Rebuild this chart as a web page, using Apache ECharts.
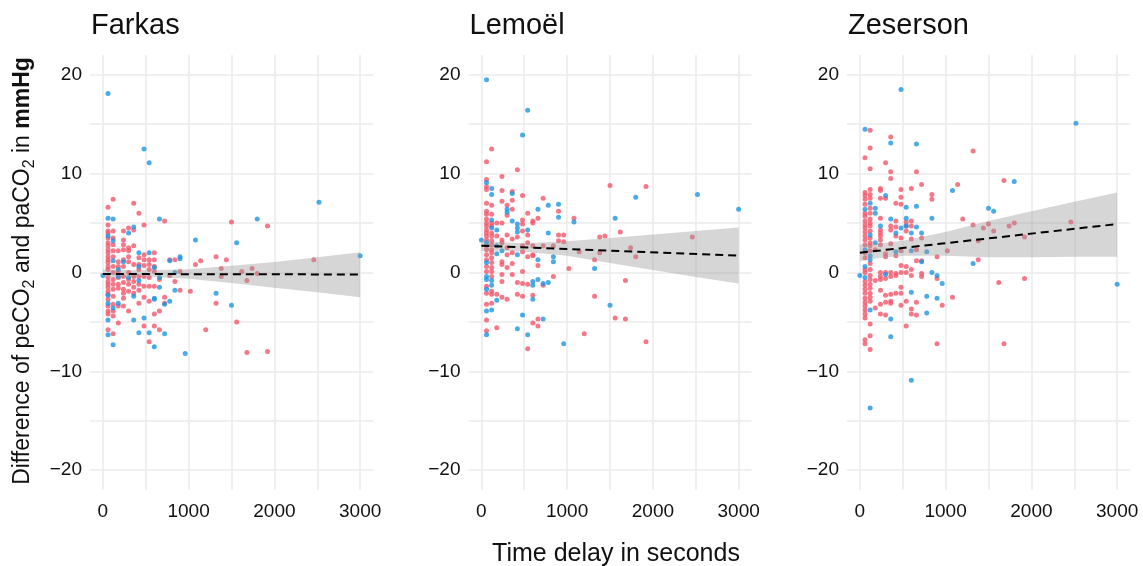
<!DOCTYPE html>
<html><head><meta charset="utf-8">
<script src="https://cdn.jsdelivr.net/npm/echarts@6/dist/echarts.min.js"></script>
<style>html,body{margin:0;padding:0;background:#fff}#c{width:1143px;height:566px}</style>
</head><body><div id="c"></div>
<script>
const panelNames = ['Farkas', 'Lemoël', 'Zeserson'];
const xTickLabels = [0, 1000, 2000, 3000];
const xGridValues = [0, 500, 1000, 1500, 2000, 2500, 3000];
const yTickLabels = [-20, -10, 0, 10, 20];
const yGridValues = [-20, -15, -10, -5, 0, 5, 10, 15, 20];

// [time delay s, difference mmHg]
const farkasRed = [[60,6.6],[60,4.8],[60,4.2],[60,4.0],[60,3.5],[60,3.0],[60,2.7],[60,2.3],[60,2.0],[60,1.6],[60,1.3],[60,1.0],[60,0.6],[60,0.3],[60,-0.5],[60,-0.9],[60,-1.2],[60,-1.5],[60,-1.9],[60,-2.2],[60,-2.7],[60,-3.4],[60,-3.9],[60,-4.2],[60,-5.8],
[120,7.4],[120,4.2],[120,3.5],[120,2.8],[120,2.2],[120,1.6],[120,0.6],[120,0],[120,-0.7],[120,-1.2],[120,-1.7],[120,-2.4],[120,-3.2],[120,-3.9],[120,-4.4],[120,-6.2],
[180,2.2],[180,1.1],[180,0.6],[180,0.1],[180,-0.5],[180,-1.2],[180,-1.6],[180,-3.4],[180,-5.1],
[240,4.2],[240,3.3],[240,2.8],[240,2.3],[240,1.3],[240,0.6],[240,-0.4],[240,-1.0],[240,-1.7],[240,-2.1],[240,-2.6],[240,-3.4],
[300,4.5],[300,2.5],[300,2.2],[300,1.6],[300,1.1],[300,0],[300,-0.7],[300,-1.2],[300,-1.9],[300,-3.9],
[360,7.0],[360,4.3],[360,2.7],[360,0.8],[360,-0.4],[360,-0.9],[360,-1.5],[360,-2.1],
[420,6.0],[420,1.5],[420,0.8],[420,0.3],[420,-0.4],[420,-1.2],[420,-1.8],[420,-3.1],
[480,4.8],[480,1.8],[480,1.3],[480,0.7],[480,-0.4],[480,-1.4],[480,-2.5],[480,-5.4],
[540,1.3],[540,0.8],[540,0.3],[540,-0.5],[540,-1.4],[540,-2.9],[540,-7.0],
[600,2.0],[600,1.3],[600,0.6],[600,0.1],[600,-1.4],[600,-4.2],[600,-5.4],
[660,-0.7],[660,-3.9],[660,-5.8],[720,5.2],[720,-2.5],[720,-3.1],[780,1.3],[780,-0.3],[840,1.3],[840,-0.9],[900,0.1],[900,-1.8],
[1020,-1.9],[1080,0.8],[1140,1.2],[1200,-5.8],[1320,1.6],[1320,-3.1],[1380,0.4],[1380,-0.4],[1440,1.3],[1500,5.1],[1560,-5.0],
[1620,0.1],[1680,-0.8],[1680,-8.1],[1740,0.4],[1800,-0.1],[1920,4.7],[1920,-8.0],[2460,1.3]];
const farkasBlue = [[0,-0.3],[60,18.1],[480,12.5],[540,11.1],[60,5.5],[60,3.7],[60,-2.3],[60,-3.1],[60,-4.8],[60,-6.3],
[120,5.4],[120,3.2],[120,1.2],[120,-3.6],[120,-7.3],[180,0.3],[180,-0.4],[180,-3.1],[240,1.1],[300,4.0],[300,-0.5],
[360,4.6],[360,-2.4],[360,-4.8],[420,2.0],[420,0.6],[420,-0.8],[420,-6.1],[480,-4.6],[540,2.0],[540,-6.1],
[600,0.5],[600,-2.6],[600,-2.7],[600,-7.5],[660,5.4],[660,-0.5],[660,-1.5],[720,-3.2],[720,-6.2],[780,1.2],[780,-2.9],
[840,0],[840,-1.8],[900,1.6],[900,1.4],[960,-8.2],[1080,3.3],[1320,-2.1],[1500,-3.3],[1560,3.0],[1800,5.4],[2520,7.1],[3000,1.7]];

const lemoelRed = [[60,11.2],[60,9.4],[60,8.7],[60,8.4],[60,7.0],[60,6.2],[60,5.9],[60,5.4],[60,5.0],[60,4.7],[60,4.3],[60,4.0],[60,3.7],[60,3.3],[60,2.7],[60,2.3],[60,1.8],[60,1.3],[60,0.6],[60,0.1],[60,-1.4],[60,-2.1],[60,-3.2],[60,-4.8],[60,-5.9],
[120,12.5],[120,6.8],[120,5.9],[120,5.0],[120,4.7],[120,4.0],[120,3.7],[120,3.2],[120,2.8],[120,2.3],[120,2.0],[120,1.5],[120,1.0],[120,0.5],[120,0.1],[120,-0.4],[120,-1.9],[120,-2.2],[120,-3.1],
[180,5.0],[180,3.7],[180,-2.2],[180,-5.6],
[240,9.7],[240,8.3],[240,7.2],[240,5.0],[240,3.3],[240,3.0],[240,1.1],[240,0.8],[240,-0.2],[240,-0.9],[240,-2.5],
[300,6.8],[300,5.8],[300,3.8],[300,2.5],[300,1.8],[300,0.5],[300,-2.7],
[360,8.2],[360,7.3],[360,6.4],[360,3.4],[360,2.0],[360,0.9],[360,-0.2],
[420,10.4],[420,3.6],[420,-1.0],[420,-2.2],
[480,7.8],[480,5.3],[480,4.9],[480,4.2],[480,2.7],[480,2.1],[480,0.1],[480,-1.1],[480,-2.4],
[540,6.0],[540,3.8],[540,3.0],[540,1.6],[540,-1.2],[540,-7.7],
[600,5.2],[600,5.0],[600,2.7],[600,1.8],[600,1.7],[600,-2.3],[600,-5.1],
[660,5.5],[660,0.7],[660,-4.7],[660,-5.4],[720,7.5],[720,2.7],[720,-1.3],[840,2.7],[840,-0.4],
[900,6.2],[900,3.8],[900,3.2],[960,3.8],[960,3.1],[1020,0.4],[1080,5.5],[1140,2.1],[1200,-6.2],[1320,1.3],[1320,-2.4],
[1380,3.6],[1380,2.0],[1440,3.7],[1500,8.8],[1560,-4.6],[1620,4.1],[1680,-0.8],[1680,-4.7],[1740,2.5],[1800,1.6],
[1920,8.7],[1920,-7.0],[2460,3.6]];
const lemoelBlue = [[0,3.3],[60,19.5],[60,9.1],[60,3.0],[60,1.0],[60,-0.4],[60,-0.7],[60,-1.7],[60,-3.9],[60,-6.3],
[120,8.5],[120,7.9],[120,5.3],[120,4.5],[120,-0.8],[120,-1.3],[120,-3.8],[180,4.3],[180,2.7],[180,1.9],[180,-2.8],
[240,2.2],[300,6.4],[300,6.1],[360,8.0],[360,5.2],[420,4.9],[420,4.5],[420,4.1],[420,1.8],[420,-5.7],
[480,13.9],[480,-4.3],[540,16.4],[540,4.3],[540,-6.3],[600,-0.9],[600,-1.3],[600,-2.7],[660,6.4],[660,1.3],[660,-0.7],
[720,-1.1],[720,-4.7],[780,6.8],[780,4.0],[780,-1.0],[840,1.6],[840,1.1],[900,6.9],[900,5.6],[960,-7.2],
[1080,5.1],[1320,0.4],[1500,-3.3],[1560,5.5],[1800,7.6],[2520,7.9],[3000,6.4]];

const zesersonRed = [[60,11.6],[60,8.1],[60,7.8],[60,7.4],[60,6.9],[60,6.0],[60,5.7],[60,5.2],[60,4.8],[60,4.5],[60,4.1],[60,3.7],[60,3.3],[60,2.8],[60,2.0],[60,1.5],[60,0.3],[60,0],[60,-0.9],[60,-1.3],[60,-1.7],[60,-2.1],[60,-2.6],[60,-3.0],[60,-3.4],[60,-3.8],[60,-4.2],[60,-4.6],[60,-6.8],[60,-7.2],
[120,14.4],[120,12.6],[120,10.5],[120,8.4],[120,7.9],[120,7.5],[120,6.5],[120,6.0],[120,5.4],[120,5.0],[120,4.7],[120,4.2],[120,3.5],[120,3.0],[120,2.7],[120,2.2],[120,0.9],[120,0.3],[120,-0.3],[120,-0.7],[120,-1.2],[120,-1.6],[120,-2.1],[120,-2.5],[120,-2.9],[120,-5.2],[120,-6.4],[120,-7.8],
[180,2.3],[180,-0.8],[180,-3.6],
[240,8.5],[240,8.3],[240,7.5],[240,5.5],[240,4.3],[240,4.0],[240,3.7],[240,3.3],[240,2.8],[240,0],[240,-0.4],[240,-0.7],[240,-1.8],[240,-3.2],[240,-4.2],
[300,11.1],[300,7.5],[300,1.9],[300,1.6],[300,0],[300,-0.6],[300,-2.3],[300,-3.0],[300,-4.3],
[360,13.7],[360,10.2],[360,9.5],[360,4.7],[360,4.3],[360,2.9],[360,0],[360,-0.4],[360,-2.2],[360,-2.9],[360,-3.1],
[420,7.0],[420,5.2],[420,4.6],[420,3.7],[420,1.7],[420,-0.1],[420,-0.3],[420,-2.1],
[480,8.4],[480,7.6],[480,6.9],[480,3.5],[480,2.2],[480,0.7],[480,0],[480,-1.5],[480,-2.1],[480,-3.3],
[540,5.1],[540,4.7],[540,4.2],[540,0.6],[540,0],[540,-2.9],[540,-5.4],
[600,8.5],[600,5.2],[600,4.7],[600,3.4],[600,0.3],[600,-0.3],[600,-3.7],[600,-4.2],
[660,10.2],[660,2.3],[660,1.2],[660,-3.0],[660,-4.3],[720,8.9],[720,3.5],[720,1.2],[720,-0.1],[720,-0.4],
[840,7.9],[840,7.4],[900,1.6],[900,-0.6],[900,-7.2],[960,-3.3],[1020,2.2],[1080,-2.5],[1140,8.9],[1200,5.4],
[1320,12.3],[1320,4.8],[1380,3.2],[1380,1.3],[1440,4.5],[1500,4.9],[1560,4.2],[1620,-1.0],[1680,9.3],[1680,-7.2],
[1740,4.7],[1800,5.0],[1920,3.6],[1920,-0.6],[2460,5.1]];
const zesersonBlue = [[0,-0.3],[60,14.5],[60,6.4],[60,2.3],[60,0.6],[60,-0.5],[120,7.0],[120,3.8],[120,1.7],[120,1.3],[120,-3.8],[120,-13.7],
[180,6.5],[180,6.0],[180,3.0],[240,4.7],[300,7.8],[300,-0.2],[360,13.1],[360,5.4],[360,-4.7],[360,-6.5],[420,4.0],[420,2.1],
[480,18.5],[480,4.5],[540,6.6],[540,5.5],[540,4.7],[600,4.0],[600,2.2],[600,-2.0],[600,-10.9],[660,13.0],[660,6.7],[660,4.6],
[720,4.0],[720,1.1],[780,2.1],[780,-2.4],[780,-4.1],[840,5.5],[840,0],[900,-0.3],[900,-2.6],[960,-1.1],[1080,8.3],
[1320,0.9],[1500,6.5],[1560,6.2],[1800,9.2],[2520,15.1],[3000,-1.2]];

// linear fit ends and confidence band
const fitX = [0, 3000];
const farkasFit = [-0.15, -0.2];
const lemoelFit = [2.7, 1.7];
const zesersonFit = [2.0, 4.9];
const bandX = [0, 250, 500, 1000, 1500, 2000, 2500, 3000];
const farkasHi = [0.3, 0.25, 0.22, 0.32, 0.68, 1.05, 1.55, 2.05];
const farkasLo = [-0.5, -0.45, -0.42, -0.62, -1.05, -1.55, -2.0, -2.5];
const lemoelHi = [3.2, 3.05, 2.95, 3.15, 3.5, 3.85, 4.2, 4.55];
const lemoelLo = [2.2, 2.2, 2.1, 1.7, 0.95, 0.25, -0.45, -1.1];
const zesersonHi = [2.8, 2.95, 3.2, 4.1, 5.2, 6.2, 7.15, 8.1];
const zesersonLo = [1.15, 1.5, 1.7, 1.7, 1.55, 1.55, 1.6, 1.6];

const panels = [
  {red: farkasRed, blue: farkasBlue, fit: farkasFit, hi: farkasHi, lo: farkasLo},
  {red: lemoelRed, blue: lemoelBlue, fit: lemoelFit, hi: lemoelHi, lo: lemoelLo},
  {red: zesersonRed, blue: zesersonBlue, fit: zesersonFit, hi: zesersonHi, lo: zesersonLo}
];

const FONT = '"Liberation Sans", Arial, Helvetica, sans-serif';
const TXT = '#111';
const RED = '#F2566B', BLUE = '#1E96E0';
const lefts = [90, 468.5, 847];
const W = 283, TOP = 55, H = 435;

const grids = [], xAxes = [], yAxes = [], series = [], graphics = [];
panels.forEach((p, i) => {
  grids.push({left: lefts[i], top: TOP, width: W, height: H, containLabel: false});
  graphics.push({type: 'text', x: lefts[i] + 1, y: 26, style: {text: panelNames[i], fontFamily: FONT,
    fontSize: 29, fill: TXT, align: 'left', verticalAlign: 'middle'}});
  xAxes.push({type: 'value', gridIndex: i, min: -150, max: 3150,
    axisLine: {show: false}, axisTick: {show: false, customValues: xGridValues},
    axisLabel: {customValues: xTickLabels, fontFamily: FONT, fontSize: 19, color: TXT, margin: 12,
      formatter: v => String(v)},
    splitLine: {show: true, lineStyle: {color: '#EBEBEB', width: 1.5}}});
  yAxes.push({type: 'value', gridIndex: i, min: -22, max: 22,
    axisLine: {show: false}, axisTick: {show: false, customValues: yGridValues},
    axisLabel: {customValues: yTickLabels, fontFamily: FONT, fontSize: 19, color: TXT, margin: 8,
      formatter: v => (v < 0 ? '\u2212' + Math.abs(v) : String(v))},
    splitLine: {show: true, lineStyle: {color: '#EBEBEB', width: 1.5}}});
  series.push({type: 'scatter', xAxisIndex: i, yAxisIndex: i, data: p.red, symbolSize: 5,
    itemStyle: {color: RED}, z: 2, silent: true});
  series.push({type: 'scatter', xAxisIndex: i, yAxisIndex: i, data: p.blue, symbolSize: 5,
    itemStyle: {color: BLUE}, z: 2, silent: true});
  series.push({type: 'custom', xAxisIndex: i, yAxisIndex: i, data: [[bandX[0], p.lo[0]]], z: 3, silent: true,
    renderItem: (params, api) => {
      const pts = [];
      for (let k = 0; k < bandX.length; k++) pts.push(api.coord([bandX[k], p.hi[k]]));
      for (let k = bandX.length - 1; k >= 0; k--) pts.push(api.coord([bandX[k], p.lo[k]]));
      return {type: 'polygon', shape: {points: pts}, style: {fill: 'rgba(153,153,153,0.4)'}};
    }});
  series.push({type: 'line', xAxisIndex: i, yAxisIndex: i, data: fitX.map((x, k) => [x, p.fit[k]]),
    symbol: 'none', z: 4, silent: true,
    lineStyle: {color: '#000', width: 2, type: [8, 5]}});
});

graphics.push({type: 'text', x: 616, y: 554, style: {text: 'Time delay in seconds', fontFamily: FONT, fontSize: 25,
  fill: TXT, align: 'center', verticalAlign: 'middle'}});
graphics.push({type: 'text', x: 23, y: 271, rotation: Math.PI / 2, style: {
  text: '{n|Difference of peCO}{s|2}{n| and paCO}{s|2}{n| in }{b|mmHg}',
  align: 'center', verticalAlign: 'middle', fill: TXT,
  rich: {
    n: {fontFamily: FONT, fontSize: 23, fill: TXT, lineHeight: 30},
    s: {fontFamily: FONT, fontSize: 16, fill: TXT, lineHeight: 16, verticalAlign: 'bottom'},
    b: {fontFamily: FONT, fontSize: 23, fontWeight: 'bold', fill: TXT, lineHeight: 30}
  }}});

const chart = echarts.init(document.getElementById('c'), null, {renderer: 'canvas'});
chart.setOption({
  animation: false,
  backgroundColor: '#fff',
  grid: grids, xAxis: xAxes, yAxis: yAxes, series: series,
  graphic: graphics
});
</script></body></html>
